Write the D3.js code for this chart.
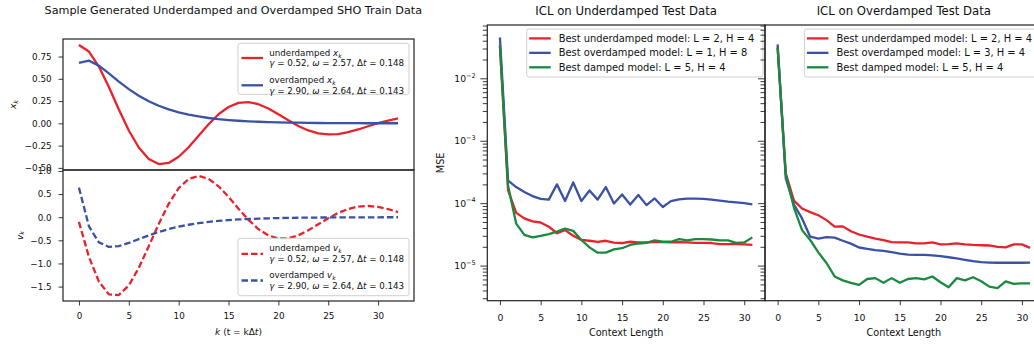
<!DOCTYPE html>
<html><head><meta charset="utf-8">
<script src="https://cdn.jsdelivr.net/npm/d3@7"></script>
<style>
html,body{margin:0;padding:0;background:#fff}
svg{display:block;font-family:"DejaVu Sans",sans-serif}
</style></head><body>
<svg id="fig" width="1034" height="345"></svg>
<script>
// ---------- data ----------
// sample trajectories, step index k = 0..32
const underX = [0.880,0.806,0.637,0.407,0.156,-0.080,-0.271,-0.400,-0.457,-0.445,-0.375,-0.268,-0.139,-0.010,0.102,0.184,0.230,0.239,0.215,0.167,0.102,0.034,-0.030,-0.080,-0.113,-0.125,-0.120,-0.099,-0.069,-0.033,0.002,0.031,0.055];
const overX  = [0.680,0.704,0.647,0.560,0.468,0.384,0.310,0.248,0.197,0.156,0.124,0.097,0.077,0.060,0.047,0.037,0.029,0.023,0.018,0.014,0.011,0.009,0.007,0.005,0.004,0.003,0.003,0.002,0.002,0.001,0.001,0.001,0.001];
const underV = [-0.100,-0.858,-1.393,-1.669,-1.683,-1.474,-1.096,-0.628,-0.146,0.289,0.627,0.827,0.892,0.830,0.668,0.440,0.185,-0.058,-0.257,-0.395,-0.460,-0.455,-0.391,-0.283,-0.154,-0.023,0.093,0.178,0.230,0.243,0.222,0.175,0.111];
const overV  = [0.639,-0.197,-0.544,-0.643,-0.624,-0.557,-0.474,-0.392,-0.319,-0.257,-0.205,-0.163,-0.129,-0.102,-0.080,-0.063,-0.049,-0.039,-0.031,-0.024,-0.019,-0.015,-0.012,-0.009,-0.007,-0.006,-0.004,-0.003,-0.003,-0.002,-0.002,-0.001,-0.001];

// MSE vs context length 0..31, underdamped test data
const udUnder = [3.4e-2,1.6e-4,7.0e-5,5.7e-5,5.1e-5,4.9e-5,4.2e-5,3.3e-5,3.7e-5,3.0e-5,2.57e-5,2.5e-5,2.4e-5,2.5e-5,2.34e-5,2.3e-5,2.41e-5,2.35e-5,2.35e-5,2.38e-5,2.38e-5,2.35e-5,2.38e-5,2.35e-5,2.32e-5,2.32e-5,2.3e-5,2.2e-5,2.2e-5,2.2e-5,2.18e-5,2.14e-5];
const udOver  = [4.5e-2,2.3e-4,1.81e-4,1.51e-4,1.30e-4,1.17e-4,1.14e-4,2.0e-4,1.08e-4,2.15e-4,1.08e-4,1.6e-4,1.14e-4,1.81e-4,9.9e-5,1.38e-4,9.5e-5,1.35e-4,9.3e-5,1.19e-4,8.7e-5,1.08e-4,1.15e-4,1.18e-4,1.18e-4,1.17e-4,1.14e-4,1.10e-4,1.06e-4,1.03e-4,1.0e-4,9.6e-5];
const udDamp  = [3.3e-2,1.9e-4,4.7e-5,3.1e-5,2.83e-5,3.0e-5,3.2e-5,3.5e-5,3.9e-5,3.6e-5,2.57e-5,1.96e-5,1.61e-5,1.61e-5,1.82e-5,1.9e-5,2.14e-5,2.26e-5,2.32e-5,2.53e-5,2.41e-5,2.41e-5,2.66e-5,2.53e-5,2.66e-5,2.66e-5,2.62e-5,2.53e-5,2.53e-5,2.32e-5,2.35e-5,2.83e-5];
// MSE vs context length 0..31, overdamped test data
const odUnder = [3.1e-2,3.0e-4,1.1e-4,8.2e-5,7.2e-5,6.4e-5,5.35e-5,4.2e-5,4.25e-5,3.55e-5,3.15e-5,2.9e-5,2.7e-5,2.55e-5,2.38e-5,2.36e-5,2.36e-5,2.27e-5,2.27e-5,2.36e-5,2.19e-5,2.2e-5,2.27e-5,2.19e-5,2.14e-5,2.12e-5,2.1e-5,2.0e-5,1.96e-5,2.19e-5,2.19e-5,1.92e-5];
const odOver  = [3.5e-2,2.5e-4,9.5e-5,5.7e-5,2.9e-5,2.7e-5,2.85e-5,2.8e-5,2.5e-5,2.25e-5,1.95e-5,1.85e-5,1.77e-5,1.72e-5,1.65e-5,1.55e-5,1.5e-5,1.48e-5,1.48e-5,1.46e-5,1.42e-5,1.36e-5,1.3e-5,1.24e-5,1.18e-5,1.14e-5,1.12e-5,1.11e-5,1.11e-5,1.11e-5,1.11e-5,1.12e-5];
const odDamp  = [3.1e-2,2.9e-4,8.5e-5,3.7e-5,2.57e-5,1.63e-5,1.1e-5,6.7e-6,5.8e-6,5.3e-6,4.9e-6,6.1e-6,6.3e-6,5.3e-6,6.3e-6,5.3e-6,6.1e-6,6.3e-6,6.0e-6,6.7e-6,5.4e-6,4.5e-6,6.3e-6,5.8e-6,6.5e-6,5.6e-6,4.6e-6,4.35e-6,5.6e-6,5.1e-6,5.2e-6,5.2e-6];

const xTicksLeft = [0,5,10,15,20,25,30];
const xTicksIcl  = [0,5,10,15,20,25,30];
const yTicksX = [0.75,0.50,0.25,0.00,-0.25,-0.50];
const yTicksV = [1.0,0.5,0.0,-0.5,-1.0,-1.5];
const yTicksLog = [1e-5,1e-4,1e-3,1e-2];

const titles = ["Sample Generated Underdamped and Overdamped SHO Train Data",
                "ICL on Underdamped Test Data", "ICL on Overdamped Test Data"];
const iclLabelsUnder = ["Best underdamped model: L = 2, H = 4","Best overdamped model: L = 1, H = 8","Best damped model: L = 5, H = 4"];
const iclLabelsOver  = ["Best underdamped model: L = 2, H = 4","Best overdamped model: L = 3, H = 4","Best damped model: L = 5, H = 4"];

// ---------- style ----------
const RED = "#e8222b", BLUE = "#3a52a6", GREEN = "#1a8a3f";
const LW = 2.3, SPINE = "#222", INK = "#111";
const F = {leftTitle:11.2, leftTick:8.8, leftLeg:8.7, leftLab:9.0,
           iclTitle:11.7, iclTick:9.3, iclLeg:9.9, iclLab:9.7};

const svg = d3.select("#fig");
svg.append("rect").attr("width",1034).attr("height",345).attr("fill","#fff");
const defs = svg.append("defs");

// mathtext-like runs: [text, kind] with kind n = normal, i = italic, s = italic subscript
function runs(textSel, parts, size){
  let shifted = false;
  parts.forEach(([t,k])=>{
    const ts = textSel.append("tspan").text(t);
    if(k==="i"||k==="s") ts.attr("font-style","italic");
    if(k==="s"){ ts.attr("font-size", size*0.7).attr("dy", size*0.22); shifted = true; }
    else if(shifted){ ts.attr("dy", -size*0.22); shifted = false; }
  });
}

function spines(g, x0, y0, x1, y1){
  g.append("rect").attr("x",x0).attr("y",y0).attr("width",x1-x0).attr("height",y1-y0)
   .attr("fill","none").attr("stroke",SPINE).attr("stroke-width",1.2);
}

function styleAxis(size){
  return sel => {
    sel.select(".domain").remove();
    sel.selectAll(".tick line").attr("stroke",SPINE).attr("stroke-width",0.9);
    sel.selectAll(".tick text").attr("fill",INK).attr("font-size",size).attr("font-family","DejaVu Sans");
  };
}

function padDomain(vals){
  const lo = d3.min(vals), hi = d3.max(vals), m = (hi-lo)*0.05;
  return [lo-m, hi+m];
}

// legend with two-line entries
function legend2(g, box, entries){
  g.append("rect").attr("x",box.x).attr("y",box.y).attr("width",box.w).attr("height",box.h)
   .attr("rx",2.5).attr("fill","#fff").attr("fill-opacity",0.85)
   .attr("stroke","#cfcfcf").attr("stroke-width",1);
  entries.forEach((e,j)=>{
    const y1 = box.y + box.first + j*box.entryGap, y2 = y1 + box.lineGap;
    const mid = (y1+y2)/2;
    g.append("line").attr("x1",box.x+3.5).attr("x2",box.x+25).attr("y1",mid).attr("y2",mid)
     .attr("stroke",e.color).attr("stroke-width",LW)
     .attr("stroke-dasharray", e.dash ? "6.5,3" : null);
    [y1,y2].forEach((yy,i)=>{
      const t = g.append("text").attr("x",box.x+31.3).attr("y",yy + F.leftLeg*0.36)
        .attr("font-size",F.leftLeg).attr("fill",INK);
      runs(t, e.lines[i], F.leftLeg);
    });
  });
}

function trace(g, xs, ys, arr, color, dash, clip){
  const line = d3.line().x((d,i)=>xs(i)).y(d=>ys(d));
  const p = g.append("path").datum(arr).attr("d",line).attr("fill","none")
    .attr("stroke",color).attr("stroke-width",LW).attr("stroke-linejoin","round")
    .attr("clip-path",clip);
  if(dash) p.attr("stroke-dasharray","6.5,3");
  return p;
}

// ---------- left figure: sample trajectories ----------
const L = {x0:63, x1:414, yTop:39, yMid:170, yBot:301};
const kIdx = underX.map((_,i)=>i);
const xL = d3.scaleLinear().domain(padDomain(kIdx)).range([L.x0, L.x1]);
const yX = d3.scaleLinear().domain(padDomain(underX.concat(overX))).range([L.yMid, L.yTop]);
const yV = d3.scaleLinear().domain(padDomain(underV.concat(overV))).range([L.yBot, L.yMid]);

const gl = svg.append("g");
gl.append("text").attr("x",233.3).attr("y",14.3).attr("text-anchor","middle")
  .attr("font-size",F.leftTitle).attr("fill",INK).text(titles[0]);

defs.append("clipPath").attr("id","cTop").append("rect").attr("x",L.x0).attr("y",L.yTop).attr("width",L.x1-L.x0).attr("height",L.yMid-L.yTop);
defs.append("clipPath").attr("id","cBot").append("rect").attr("x",L.x0).attr("y",L.yMid).attr("width",L.x1-L.x0).attr("height",L.yBot-L.yMid);

trace(gl, xL, yX, underX, RED, false, "url(#cTop)");
trace(gl, xL, yX, overX, BLUE, false, "url(#cTop)");
trace(gl, xL, yV, underV, RED, true, "url(#cBot)");
trace(gl, xL, yV, overV, BLUE, true, "url(#cBot)");

gl.append("g").attr("transform",`translate(${L.x0},0)`)
  .call(d3.axisLeft(yX).tickValues(yTicksX).tickFormat(d3.format(".2f")).tickSize(4.5).tickPadding(6.8)).call(styleAxis(F.leftTick));
gl.append("g").attr("transform",`translate(${L.x0},0)`)
  .call(d3.axisLeft(yV).tickValues(yTicksV).tickFormat(d3.format(".1f")).tickSize(4.5).tickPadding(6.8)).call(styleAxis(F.leftTick));
gl.append("g").attr("transform",`translate(0,${L.yBot})`)
  .call(d3.axisBottom(xL).tickValues(xTicksLeft).tickFormat(d3.format("d")).tickSize(4.5).tickPadding(7.1)).call(styleAxis(F.leftTick));

spines(gl, L.x0, L.yTop, L.x1, L.yMid);
spines(gl, L.x0, L.yMid, L.x1, L.yBot);

const ylx = gl.append("text").attr("transform",`translate(16,${(L.yTop+L.yMid)/2}) rotate(-90)`)
  .attr("text-anchor","middle").attr("font-size",F.leftLab).attr("fill",INK);
runs(ylx, [["x","i"],["k","s"]], F.leftLab);
const ylv = gl.append("text").attr("transform",`translate(22.5,${(L.yMid+L.yBot)/2}) rotate(-90)`)
  .attr("text-anchor","middle").attr("font-size",F.leftLab).attr("fill",INK);
runs(ylv, [["v","i"],["k","s"]], F.leftLab);
const xlab = gl.append("text").attr("x",(L.x0+L.x1)/2).attr("y",334.5).attr("text-anchor","middle")
  .attr("font-size",F.leftLab).attr("fill",INK);
runs(xlab, [["k","i"],[" (t = kΔ","n"],["t","i"],[")","n"]], F.leftLab);

const paramU = [["γ","i"],[" = 0.52, ","n"],["ω","i"],[" = 2.57, Δ","n"],["t","i"],[" = 0.148","n"]];
const paramO = [["γ","i"],[" = 2.90, ","n"],["ω","i"],[" = 2.64, Δ","n"],["t","i"],[" = 0.143","n"]];
legend2(gl, {x:238, y:43.3, w:171, h:51, first:9.4, lineGap:10.6, entryGap:27.3}, [
  {color:RED,  dash:false, lines:[[["underdamped ","n"],["x","i"],["k","s"]], paramU]},
  {color:BLUE, dash:false, lines:[[["overdamped ","n"],["x","i"],["k","s"]], paramO]}
]);
legend2(gl, {x:238, y:238.3, w:171, h:57.4, first:10, lineGap:11, entryGap:26.7}, [
  {color:RED,  dash:true, lines:[[["underdamped ","n"],["v","i"],["k","s"]], paramU]},
  {color:BLUE, dash:true, lines:[[["overdamped ","n"],["v","i"],["k","s"]], paramO]}
]);

// ---------- ICL panels (shared log y axis) ----------
const P = {yTop:25, yBot:300.7};
const ctx = udUnder.map((_,i)=>i);
const allMse = udUnder.concat(udOver, udDamp, odUnder, odOver, odDamp);
const lo = Math.log10(d3.min(allMse)), hi = Math.log10(d3.max(allMse)), lm = (hi-lo)*0.05;
const yLog = d3.scaleLog().domain([10**(lo-lm), 10**(hi+lm)]).range([P.yBot, P.yTop]);
const minorTicks = [];
[-6,-5,-4,-3,-2].forEach(e=>{ for(let m=2;m<=9;m++){ const v=m*10**e; if(v>=yLog.domain()[0] && v<=yLog.domain()[1]) minorTicks.push(v);} });

function iclPanel(x0, x1, series, labels, title, showLabels, clipId){
  const g = svg.append("g");
  const xs = d3.scaleLinear().domain(padDomain(ctx)).range([x0, x1]);
  defs.append("clipPath").attr("id",clipId).append("rect").attr("x",x0).attr("y",P.yTop).attr("width",x1-x0).attr("height",P.yBot-P.yTop);
  g.append("text").attr("x",(x0+x1)/2).attr("y",14.5).attr("text-anchor","middle")
    .attr("font-size",F.iclTitle).attr("fill",INK).text(title);
  const line = d3.line().x((d,i)=>xs(i)).y(d=>yLog(d));
  series.forEach(s=>{
    g.append("path").datum(s.data).attr("d",line).attr("fill","none").attr("stroke",s.color)
      .attr("stroke-width",LW).attr("stroke-linejoin","round").attr("clip-path",`url(#${clipId})`);
  });
  g.append("g").attr("transform",`translate(${x0},0)`)
    .call(d3.axisLeft(yLog).tickValues(minorTicks).tickFormat("").tickSize(4.5)).call(styleAxis(F.iclTick));
  g.append("g").attr("transform",`translate(${x0},0)`)
    .call(d3.axisLeft(yLog).tickValues(yTicksLog).tickFormat("").tickSize(7)).call(styleAxis(F.iclTick));
  if(showLabels){
    yTicksLog.forEach(v=>{
      const t = g.append("text").attr("x",x0-11.6).attr("y",yLog(v)+3.4).attr("text-anchor","end")
        .attr("font-size",F.iclTick).attr("fill",INK);
      t.append("tspan").text("10");
      t.append("tspan").attr("font-size",F.iclTick*0.7).attr("dy",-4.2).text("−"+Math.round(-Math.log10(v)));
    });
  }
  g.append("g").attr("transform",`translate(0,${P.yBot})`)
    .call(d3.axisBottom(xs).tickValues(xTicksIcl).tickFormat(d3.format("d")).tickSize(4.5).tickPadding(9)).call(styleAxis(F.iclTick));
  g.append("text").attr("x",(x0+x1)/2).attr("y",335.5).attr("text-anchor","middle")
    .attr("font-size",F.iclLab).attr("fill",INK).text("Context Length");
  spines(g, x0, P.yTop, x1, P.yBot);
  // legend, upper right
  const lx = x1 - 238.3, ly = 29;
  g.append("rect").attr("x",lx).attr("y",ly).attr("width",236.3).attr("height",48)
    .attr("rx",2.5).attr("fill","#fff").attr("fill-opacity",0.85).attr("stroke","#cfcfcf").attr("stroke-width",1);
  series.forEach((s,i)=>{
    const cy = 38.4 + i*14.45;
    g.append("line").attr("x1",lx+2.5).attr("x2",lx+24).attr("y1",cy).attr("y2",cy)
      .attr("stroke",s.color).attr("stroke-width",LW);
    g.append("text").attr("x",lx+32).attr("y",cy+F.iclLeg*0.36).attr("font-size",F.iclLeg).attr("fill",INK).text(labels[i]);
  });
  return g;
}

iclPanel(487.3, 765, [
  {data:udUnder, color:RED},{data:udOver, color:BLUE},{data:udDamp, color:GREEN}
], iclLabelsUnder, titles[1], true, "cMid");
iclPanel(765, 1042.7, [
  {data:odUnder, color:RED},{data:odOver, color:BLUE},{data:odDamp, color:GREEN}
], iclLabelsOver, titles[2], false, "cRight");

svg.append("text").attr("transform",`translate(444.3,${(P.yTop+P.yBot)/2}) rotate(-90)`)
  .attr("text-anchor","middle").attr("font-size",F.iclLab).attr("fill",INK).text("MSE");
</script>
</body></html>
